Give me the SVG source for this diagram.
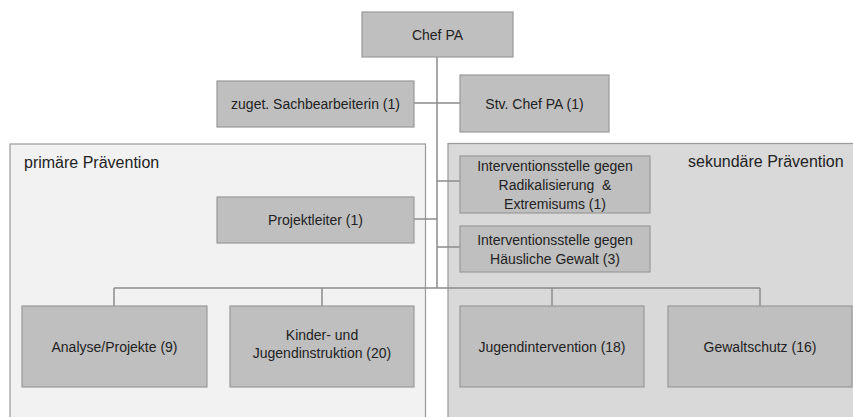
<svg xmlns="http://www.w3.org/2000/svg" width="853" height="417" viewBox="0 0 853 417">
<style>
.box{fill:#bfbfbf;stroke:#999;stroke-width:1.2}
.t{font-family:"Liberation Sans",Arial,sans-serif;font-size:14px;fill:#222;text-anchor:middle}
.pt{font-family:"Liberation Sans",Arial,sans-serif;font-size:16px;fill:#222}
.ln{stroke:#8c8c8c;stroke-width:1.5;fill:none}
</style>
<rect width="853" height="417" fill="#fff"/>
<g id="panel-primaer">
<rect x="10" y="144" width="415.5" height="290" fill="#f2f2f2" stroke="#999" stroke-width="1.2"/>
<text class="pt" x="24" y="168">primäre Prävention</text>
</g>
<g id="panel-sekundaer">
<rect x="448" y="143.5" width="420" height="290" fill="#d9d9d9" stroke="#999" stroke-width="1.2"/>
<text class="pt" x="688" y="167">sekundäre Prävention</text>
</g>
<g id="connectors">
<path class="ln" d="M437 57V288M414 103H460M414 219H437M437 181H460M437 247H460M114 288H760M114 288V306M322 288V306M552 288V306M760 288V306"/>
</g>
<g id="chef"><rect class="box" x="362" y="12" width="151" height="45"/><text class="t" x="437.5" y="39.5">Chef PA</text></g>
<g id="zuget"><rect class="box" x="217" y="81" width="197" height="46"/><text class="t" x="315.5" y="109">zuget. Sachbearbeiterin (1)</text></g>
<g id="stv"><rect class="box" x="460" y="75" width="149" height="57"/><text class="t" x="534.5" y="108.5">Stv. Chef PA (1)</text></g>
<g id="projektleiter"><rect class="box" x="217" y="197" width="197" height="46"/><text class="t" x="315.5" y="225">Projektleiter (1)</text></g>
<g id="radikalisierung"><rect class="box" x="460" y="156" width="190" height="57"/><text class="t" x="555" y="170.5" xml:space="preserve">Interventionsstelle gegen<tspan x="555" dy="19">Radikalisierung  &amp;</tspan><tspan x="555" dy="19">Extremisums (1)</tspan></text></g>
<g id="haeusliche"><rect class="box" x="460" y="226" width="190" height="46"/><text class="t" x="555" y="244.5">Interventionsstelle gegen<tspan x="555" dy="19">Häusliche Gewalt (3)</tspan></text></g>
<g id="analyse"><rect class="box" x="22" y="306" width="185" height="81"/><text class="t" x="114.5" y="351.5">Analyse/Projekte (9)</text></g>
<g id="kinder"><rect class="box" x="230" y="306" width="184" height="81"/><text class="t" x="322" y="340">Kinder- und<tspan x="322" dy="18">Jugendinstruktion (20)</tspan></text></g>
<g id="jugend"><rect class="box" x="460" y="306" width="184" height="81"/><text class="t" x="552" y="351.5">Jugendintervention (18)</text></g>
<g id="gewalt"><rect class="box" x="668" y="306" width="184" height="81"/><text class="t" x="760" y="351.5">Gewaltschutz (16)</text></g>
</svg>
